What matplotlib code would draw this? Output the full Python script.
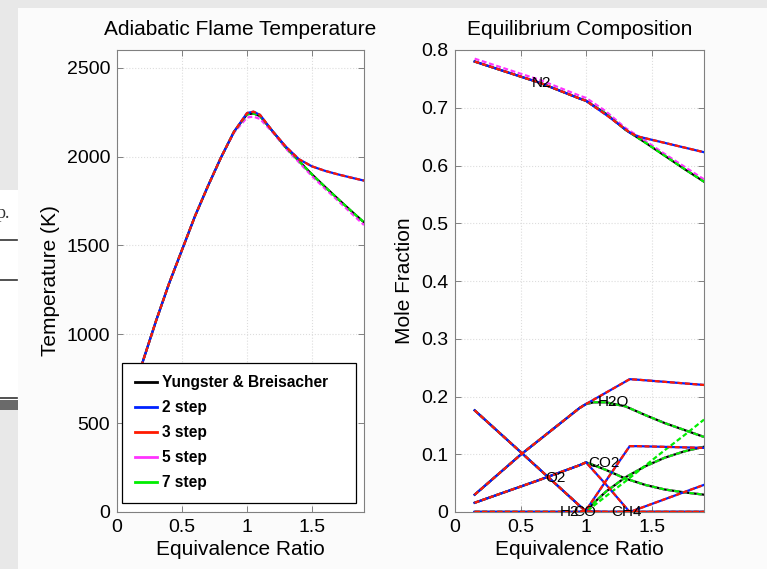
import matplotlib
matplotlib.use("Agg")
import matplotlib.pyplot as plt
from matplotlib.lines import Line2D
from matplotlib.patches import Rectangle

plt.rcParams['font.family'] = ['Liberation Sans', 'DejaVu Sans']

W, H = 767, 569

# ---------------- adiabatic flame temperature ----------------
phi_T = [0.15, 0.2, 0.3, 0.4, 0.5, 0.6, 0.7, 0.8, 0.9, 1.0, 1.05, 1.1, 1.2, 1.3,
         1.4, 1.5, 1.6, 1.7, 1.8, 1.9]
T_yb = [740, 850, 1075, 1285, 1475, 1665, 1835, 1995, 2140, 2238, 2243, 2228, 2140,
        2050, 1975, 1900, 1830, 1762, 1695, 1630]
T_2step = [740, 850, 1075, 1285, 1475, 1665, 1835, 1995, 2140, 2245, 2253, 2235, 2140,
           2055, 1985, 1945, 1920, 1900, 1882, 1865]
T_3step = [740, 850, 1075, 1285, 1475, 1665, 1835, 1995, 2140, 2245, 2253, 2235, 2140,
           2055, 1985, 1945, 1920, 1900, 1882, 1865]
T_5step = [740, 850, 1075, 1285, 1475, 1665, 1835, 1995, 2135, 2220, 2225, 2212, 2135,
           2045, 1968, 1890, 1820, 1752, 1683, 1615]
T_7step = [740, 850, 1075, 1285, 1475, 1665, 1835, 1995, 2140, 2238, 2243, 2228, 2140,
           2050, 1975, 1900, 1830, 1762, 1695, 1630]

# ---------------- equilibrium composition ----------------
# 2-step / 3-step mechanisms
phi_A = [0.15, 0.5, 0.65, 0.95, 1.0, 1.17, 1.333, 1.4, 1.9]
N2_A = [0.780, 0.754, 0.743, 0.716, 0.712, 0.685, 0.657, 0.650, 0.623]
H2O_A = [0.030, 0.099, 0.126, 0.180, 0.187, 0.209, 0.230, 0.229, 0.220]
O2_A = [0.176, 0.104, 0.073, 0.011, 0.001, 0.0, 0.0, 0.0, 0.0]
CO2_A = [0.016, 0.044, 0.056, 0.081, 0.086, 0.043, 0.0, 0.0, 0.0]
CO_A = [0.0, 0.0, 0.0, 0.0, 0.003, 0.060, 0.114, 0.114, 0.111]
CH4_A = [0.0, 0.0, 0.0, 0.0, 0.0, 0.0, 0.0, 0.0055, 0.047]
H2_A = [0.0, 0.0, 0.0, 0.0, 0.0, 0.0, 0.0, 0.0, 0.0]

# Yungster & Breisacher / 5-step / 7-step
phi_B = [0.15, 0.5, 0.65, 0.95, 1.0, 1.06, 1.15, 1.3, 1.45, 1.6, 1.75, 1.9]
N2_B = [0.780, 0.754, 0.743, 0.716, 0.712, 0.703, 0.690, 0.662, 0.640, 0.617, 0.594, 0.572]
N2_5 = [0.785, 0.759, 0.748, 0.721, 0.717, 0.708, 0.694, 0.665, 0.643, 0.620, 0.598, 0.576]
H2O_B = [0.030, 0.099, 0.126, 0.180, 0.187, 0.190, 0.190, 0.183, 0.168, 0.154, 0.142, 0.130]
O2_B = [0.176, 0.104, 0.073, 0.011, 0.001, 0.0, 0.0, 0.0, 0.0, 0.0, 0.0, 0.0]
CO2_B = [0.016, 0.044, 0.056, 0.081, 0.086, 0.081, 0.073, 0.058, 0.047, 0.039, 0.034, 0.030]
CO_B = [0.0, 0.0, 0.0, 0.0, 0.002, 0.016, 0.035, 0.060, 0.079, 0.094, 0.105, 0.113]
CH4_B = [0.0, 0.0, 0.0, 0.0, 0.0, 0.0, 0.0, 0.0, 0.0, 0.0, 0.0, 0.0]
H2_7 = [0.0, 0.0, 0.0, 0.0, 0.0, 0.011, 0.027, 0.053, 0.080, 0.107, 0.133, 0.160]

species_labels = ['N2', 'H2O', 'CO2', 'O2', 'H2', 'CO', 'CH4']
label_x = [0.66, 1.21, 1.14, 0.77, 0.87, 0.99, 1.31]
label_y = [0.743, 0.19, 0.085, 0.059, 0.0, 0.0, 0.0]

legend_names = ['Yungster & Breisacher', '2 step', '3 step', '5 step', '7 step']
c_yb, c_2, c_3, c_5, c_7 = 'black', '#0022ff', '#ff1a00', '#ff33ff', '#00ee00'


def px(x, y):
    return x / W, 1 - y / H


fig = plt.figure(figsize=(W / 100, H / 100), dpi=100, facecolor='#fbfbfb')

# screenshot surroundings
fig.add_artist(Rectangle(px(0, 8), 1, 8 / H, transform=fig.transFigure,
                         color='#e8e8e8', lw=0))
fig.add_artist(Rectangle(px(0, H), 18 / W, 1, transform=fig.transFigure,
                         color='#e8e8e8', lw=0))
fig.add_artist(Rectangle(px(0, 400), 18 / W, 210 / H, transform=fig.transFigure,
                         color='white', lw=0))
fig.add_artist(Rectangle(px(0, 410), 18 / W, 10 / H, transform=fig.transFigure,
                         color='#6a6a6a', lw=0))
for yy in [240, 280, 398]:
    fig.add_artist(Line2D([0, 17 / W], [1 - yy / H] * 2, transform=fig.transFigure,
                          color='#333333', lw=1.2))
fig.text(*px(-3, 213), 'p.', family='Liberation Serif', fontsize=13,
         va='center', ha='left', color='#333333')

dash = (2.2, 1.2)
lw = 1.6
fs = 15


def style_axes(ax):
    for s in ax.spines.values():
        s.set_color('#808080')
        s.set_linewidth(0.8)
    ax.tick_params(direction='in', length=4, width=0.7, color='#808080',
                   top=True, right=True, labelsize=14, pad=5)
    ax.grid(True, linestyle=':', color='#dddddd', linewidth=0.8)
    ax.set_axisbelow(True)


# ---------------- left panel ----------------
l0, b0 = px(117, 512)
ax1 = fig.add_axes([l0, b0, 247 / W, 462 / H], facecolor='white')
ax1.plot(phi_T, T_yb, color=c_yb, lw=lw, zorder=2)
ax1.plot(phi_T, T_5step, color=c_5, lw=lw, dashes=dash, zorder=3)
ax1.plot(phi_T, T_7step, color=c_7, lw=lw, dashes=dash, zorder=4)
ax1.plot(phi_T, T_2step, color=c_2, lw=lw, zorder=5)
ax1.plot(phi_T, T_3step, color=c_3, lw=lw, dashes=dash, zorder=6)
ax1.set_xlim(0, 1.9)
ax1.set_ylim(0, 2600)
ax1.set_xticks([0, 0.5, 1, 1.5], ['0', '0.5', '1', '1.5'])
ax1.set_yticks([0, 500, 1000, 1500, 2000, 2500])
ax1.set_title('Adiabatic Flame Temperature', fontsize=fs, pad=11)
ax1.set_xlabel('Equivalence Ratio', fontsize=fs, labelpad=3)
ax1.set_ylabel('Temperature (K)', fontsize=fs, labelpad=5)
style_axes(ax1)

handles = [Line2D([], [], color=c, lw=2) for c in [c_yb, c_2, c_3, c_5, c_7]]
leg = ax1.legend(handles, legend_names, loc='lower left',
                 bbox_to_anchor=(0.02, 0.0195, 0.948, 0.308), mode='expand',
                 borderaxespad=0, prop={'weight': 'bold', 'size': 11.2},
                 handlelength=1.45, handletextpad=0.3, labelspacing=0.64,
                 borderpad=0.82, fancybox=False, framealpha=1, edgecolor='black')
leg.get_frame().set_linewidth(0.9)
leg.set_zorder(10)

# ---------------- right panel ----------------
l1, b1 = px(455, 512)
ax2 = fig.add_axes([l1, b1, 249 / W, 462 / H], facecolor='white')
for ys in [N2_B, H2O_B, O2_B, CO2_B, CO_B, CH4_B]:
    ax2.plot(phi_B, ys, color=c_yb, lw=lw, zorder=2)
for ys in [N2_5, H2O_B, O2_B, CO2_B, CO_B, CH4_B]:
    ax2.plot(phi_B, ys, color=c_5, lw=lw, dashes=dash, zorder=3)
for ys in [N2_B, H2O_B, O2_B, CO2_B, CO_B, CH4_B, H2_7]:
    ax2.plot(phi_B, ys, color=c_7, lw=lw, dashes=dash, zorder=4)
for ys in [N2_A, H2O_A, O2_A, CO2_A, CO_A, CH4_A, H2_A]:
    ax2.plot(phi_A, ys, color=c_2, lw=lw, zorder=5)
for ys in [N2_A, H2O_A, O2_A, CO2_A, CO_A, CH4_A, H2_A]:
    ax2.plot(phi_A, ys, color=c_3, lw=lw, dashes=dash, zorder=6)
for name, x, y in zip(species_labels, label_x, label_y):
    ax2.text(x, y, name, fontsize=11, ha='center', va='center', zorder=8)
ax2.set_xlim(0, 1.9)
ax2.set_ylim(0, 0.8)
ax2.set_xticks([0, 0.5, 1, 1.5], ['0', '0.5', '1', '1.5'])
ax2.set_yticks([0, 0.1, 0.2, 0.3, 0.4, 0.5, 0.6, 0.7, 0.8],
               ['0', '0.1', '0.2', '0.3', '0.4', '0.5', '0.6', '0.7', '0.8'])
ax2.set_title('Equilibrium Composition', fontsize=fs, pad=11)
ax2.set_xlabel('Equivalence Ratio', fontsize=fs, labelpad=3)
ax2.set_ylabel('Mole Fraction', fontsize=fs, labelpad=5)
style_axes(ax2)

fig.savefig('out.png', dpi=100, facecolor=fig.get_facecolor())
